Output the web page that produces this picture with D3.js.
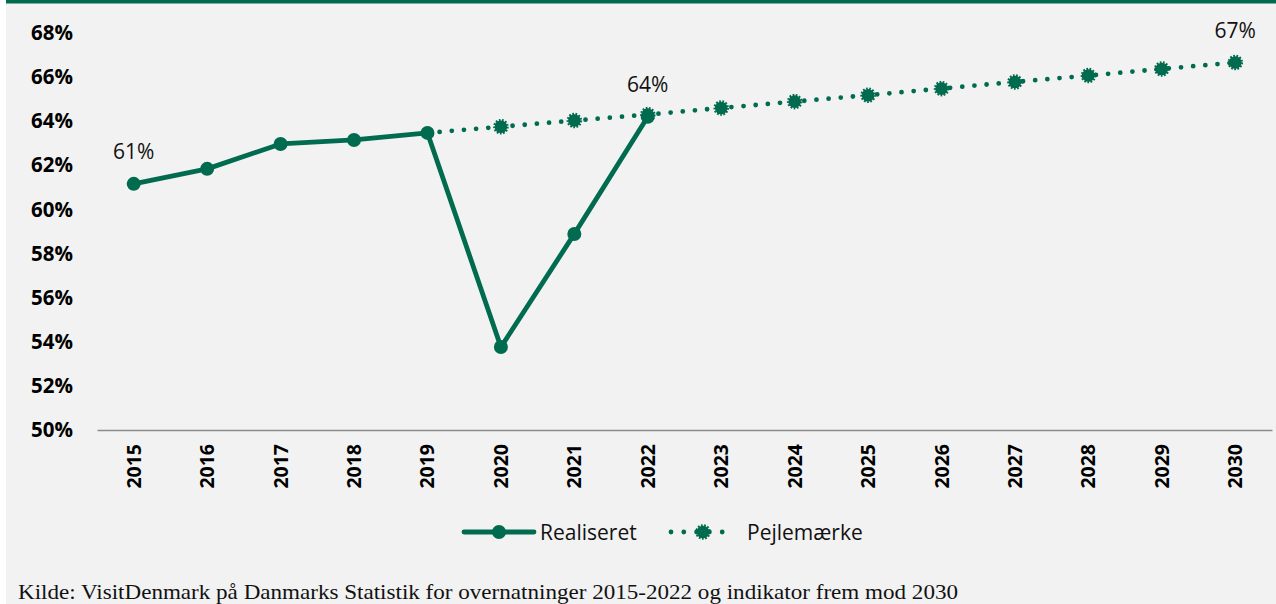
<!DOCTYPE html>
<html>
<head>
<meta charset="utf-8">
<script src="https://cdn.jsdelivr.net/npm/d3@7"></script>
<style>
  body { margin: 0; background: #fff; }
  svg { display: block; }
</style>
</head>
<body>
<div id="chart"></div>
<script>
'use strict'
// data
let years = ['2015','2016','2017','2018','2019','2020','2021','2022','2023','2024','2025','2026','2027','2028','2029','2030'];
let realYears = ['2015','2016','2017','2018','2019','2020','2021','2022'];
let realValues = [61.16, 61.84, 62.97, 63.15, 63.47, 53.76, 58.89, 64.2];
let targetYears = ['2019','2020','2021','2022','2023','2024','2025','2026','2027','2028','2029','2030'];
let targetValues = [63.47, 63.75, 64.03, 64.3, 64.6, 64.89, 65.18, 65.48, 65.78, 66.07, 66.37, 66.66];
let yTicks = [50, 52, 54, 56, 58, 60, 62, 64, 66, 68];
let labelled = [['2015', 61.16, '61%'], ['2022', 64.2, '64%'], ['2030', 66.66, '67%']];
let seriesNames = ['Realiseret', 'Pejlemærke'];
let source = 'Kilde: VisitDenmark på Danmarks Statistik for overnatninger 2015-2022 og indikator frem mod 2030';

let green = '#006b4f';
let W = 1276, H = 604;
let font = '"Open Sans", "Noto Sans", sans-serif';

let svg = d3.select('#chart')
  .append('svg')
  .attr('width', W)
  .attr('height', H);

svg.append('rect').attr('x', 6).attr('y', 0).attr('width', W - 6).attr('height', H).attr('fill', '#f2f2f2');
svg.append('rect').attr('x', 6).attr('y', 0).attr('width', W - 6).attr('height', 3.5).attr('fill', green);

let x = d3.scaleBand().domain(years).range([97, 1272]);
let cx = function(d) { return x(d) + x.bandwidth() / 2; };
let y = d3.scaleLinear().domain([50, 68]).range([430, 33]);

// y axis labels
let yAxis = d3.axisLeft(y).tickValues(yTicks).tickSize(0).tickPadding(0)
  .tickFormat(function(d) { return d + '%'; });
svg.append('g')
  .attr('transform', 'translate(73,0)')
  .call(yAxis)
  .call(function(g) { g.select('.domain').remove(); })
  .selectAll('text')
  .attr('font-family', font)
  .attr('font-weight', 'bold')
  .attr('font-size', '20.5px')
  .attr('fill', '#000');

// x axis
let xAxis = d3.axisBottom(x).tickSize(0).tickPadding(0);
let xg = svg.append('g')
  .attr('transform', 'translate(0,' + y(50) + ')')
  .call(xAxis);
xg.select('.domain').attr('stroke', '#8c8c8c').attr('stroke-width', 1.6);
xg.selectAll('text')
  .attr('font-family', font)
  .attr('font-weight', 'bold')
  .attr('font-size', '19.5px')
  .attr('fill', '#000')
  .attr('text-anchor', 'end')
  .attr('dy', null)
  .attr('transform', 'translate(7,14) rotate(-90)');

// target dotted line
let targetData = targetYears.map(function(d, i) { return [d, targetValues[i]]; });
let realData = realYears.map(function(d, i) { return [d, realValues[i]]; });
let line = d3.line().x(function(d) { return cx(d[0]); }).y(function(d) { return y(d[1]); });

svg.append('path')
  .datum(targetData)
  .attr('d', line)
  .attr('fill', 'none')
  .attr('stroke', green)
  .attr('stroke-width', 4.8)
  .attr('stroke-linecap', 'round')
  .attr('stroke-dasharray', '0,12.2');

function gear(sel) {
  sel.attr('r', 6.3)
    .attr('fill', green)
    .attr('stroke', green)
    .attr('stroke-width', 3)
    .attr('stroke-dasharray', '1.6,1.4');
}

svg.selectAll('.target-dot')
  .data(targetData.slice(1))
  .enter().append('circle')
  .attr('class', 'target-dot')
  .attr('cx', function(d) { return cx(d[0]); })
  .attr('cy', function(d) { return y(d[1]); })
  .call(gear);

// realised line
svg.append('path')
  .datum(realData)
  .attr('d', line)
  .attr('fill', 'none')
  .attr('stroke', green)
  .attr('stroke-width', 4.8)
  .attr('stroke-linejoin', 'round');

svg.selectAll('.real-dot')
  .data(realData)
  .enter().append('circle')
  .attr('class', 'real-dot')
  .attr('cx', function(d) { return cx(d[0]); })
  .attr('cy', function(d) { return y(d[1]); })
  .attr('r', 7)
  .attr('fill', green);

// data labels
svg.selectAll('.lbl')
  .data(labelled)
  .enter().append('text')
  .attr('class', 'lbl')
  .attr('x', function(d) { return cx(d[0]); })
  .attr('y', function(d) { return y(d[1]) - 25; })
  .attr('text-anchor', 'middle')
  .attr('font-family', font)
  .attr('font-size', '21px')
  .attr('fill', '#111')
  .text(function(d) { return d[2]; });

// legend
let lg = svg.append('g').attr('transform', 'translate(0,532)');
lg.append('line').attr('x1', 464).attr('x2', 534).attr('y1', 0).attr('y2', 0)
  .attr('stroke', green).attr('stroke-width', 4.8).attr('stroke-linecap', 'round');
lg.append('circle').attr('cx', 499).attr('cy', 0).attr('r', 7).attr('fill', green);
lg.append('text').attr('x', 540).attr('y', 7.5).text(seriesNames[0])
  .attr('font-family', font).attr('font-size', '21px').attr('fill', '#111');
lg.append('line').attr('x1', 671).attr('x2', 735).attr('y1', 0).attr('y2', 0)
  .attr('stroke', green).attr('stroke-width', 4.8).attr('stroke-linecap', 'round')
  .attr('stroke-dasharray', '0,12.8');
lg.append('circle').attr('cx', 703).attr('cy', 0).call(gear);
lg.append('text').attr('x', 747).attr('y', 7.5).text(seriesNames[1])
  .attr('font-family', font).attr('font-size', '21px').attr('fill', '#111');

// source
svg.append('text')
  .attr('x', 18)
  .attr('y', 599)
  .attr('font-family', '"Liberation Serif", "DejaVu Serif", serif')
  .attr('font-size', '21px')
  .attr('fill', '#111')
  .attr('textLength', 940)
  .attr('lengthAdjust', 'spacingAndGlyphs')
  .text(source);
</script>
</body>
</html>
